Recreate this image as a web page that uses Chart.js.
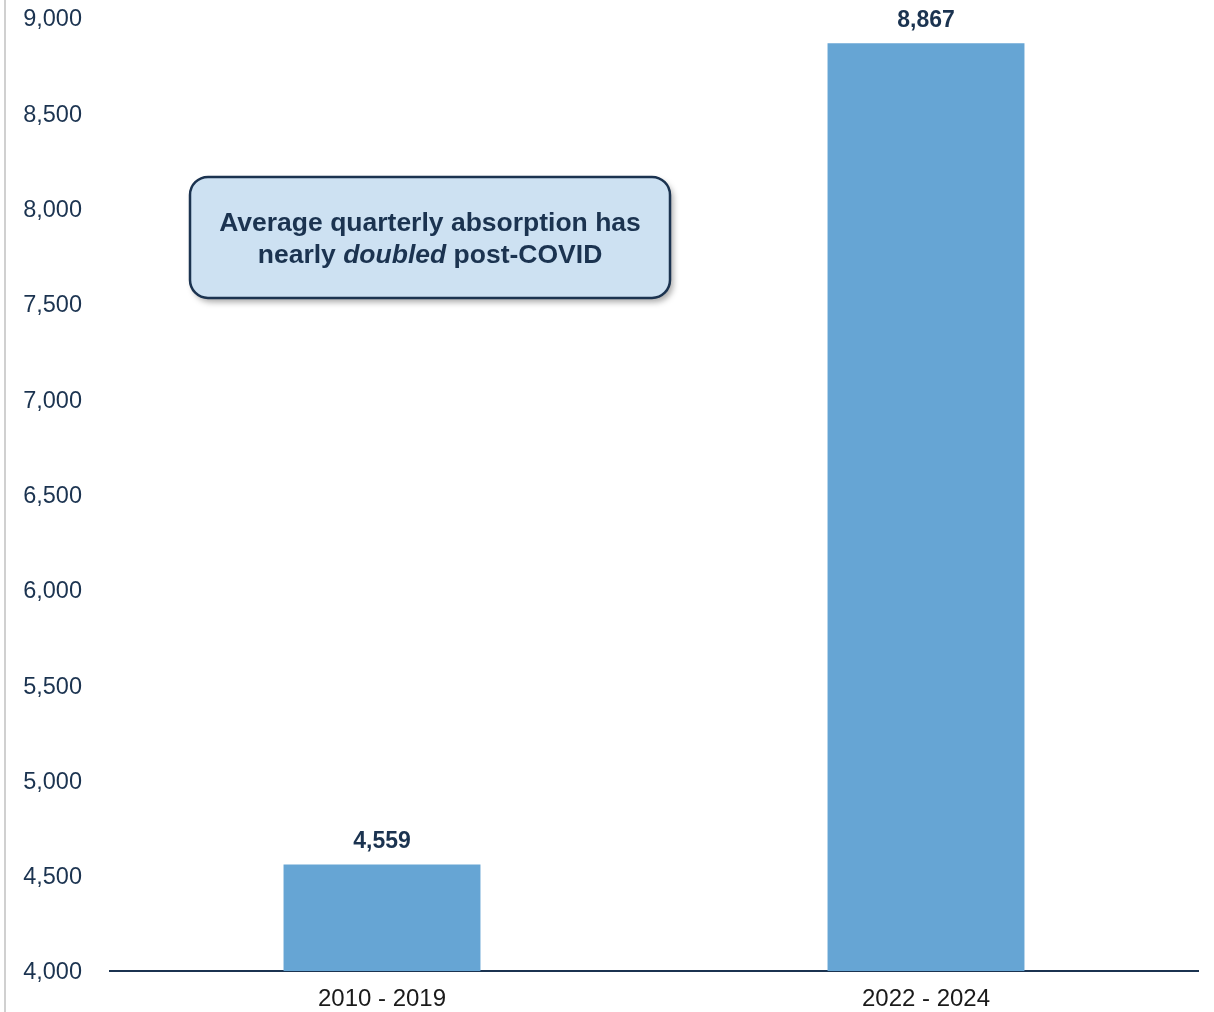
<!DOCTYPE html>
<html>
<head>
<meta charset="utf-8">
<script src="https://cdn.jsdelivr.net/npm/chart.js@4.4.1/dist/chart.umd.min.js"></script>
<style>
  html, body { margin: 0; padding: 0; background: #fff; }
  #wrap { width: 1214px; height: 1012px; position: relative; }
</style>
</head>
<body>
<div id="wrap"><canvas id="myChart" width="1214" height="1012"></canvas></div>
<script>
const categories = ['2010 - 2019', '2022 - 2024'];
const absorption = [4559, 8867];
const yTicks = [4000, 4500, 5000, 5500, 6000, 6500, 7000, 7500, 8000, 8500, 9000];
const noteLines = [
    [{ text: 'Average quarterly absorption has', italic: false }],
    [{ text: 'nearly ', italic: false }, { text: 'doubled', italic: true }, { text: ' post-COVID', italic: false }]
];

const navy = '#1b3350';
const barBlue = '#66a5d4';
const font = '"Liberation Sans", Arial, sans-serif';

// grey rule on the far left edge
const edgeLine = {
    id: 'edgeLine',
    beforeDraw(chart) {
        const c = chart.ctx;
        c.save();
        c.fillStyle = '#d0d0d0';
        c.fillRect(4, 0, 2, chart.height);
        c.restore();
    }
};

const valueLabels = {
    id: 'valueLabels',
    afterDatasetsDraw(chart) {
        const c = chart.ctx;
        const meta = chart.getDatasetMeta(0);
        c.save();
        c.font = 'bold 23px ' + font;
        c.fillStyle = navy;
        c.textAlign = 'center';
        c.textBaseline = 'middle';
        meta.data.forEach((bar, i) => {
            c.fillText(absorption[i].toLocaleString('en-US'), bar.x, bar.y - 23);
        });
        c.restore();
    }
};

function roundRect(c, x, y, w, h, r) {
    c.beginPath();
    c.moveTo(x + r, y);
    c.arcTo(x + w, y, x + w, y + h, r);
    c.arcTo(x + w, y + h, x, y + h, r);
    c.arcTo(x, y + h, x, y, r);
    c.arcTo(x, y, x + w, y, r);
    c.closePath();
}

const noteBox = {
    id: 'noteBox',
    afterDraw(chart) {
        const c = chart.ctx;
        const area = chart.chartArea;
        const ys = chart.scales.y;
        const left = area.left + 80, right = area.left + 560;
        const top = ys.getPixelForValue(8166), bottom = ys.getPixelForValue(7531);
        c.save();
        c.shadowColor = 'rgba(0,0,0,0.35)';
        c.shadowBlur = 6;
        c.shadowOffsetX = 3;
        c.shadowOffsetY = 4;
        roundRect(c, left, top, right - left, bottom - top, 18);
        c.fillStyle = '#cde1f2';
        c.fill();
        c.shadowColor = 'transparent';
        c.lineWidth = 2.5;
        c.strokeStyle = navy;
        c.stroke();

        c.fillStyle = navy;
        c.textBaseline = 'middle';
        const cx = (left + right) / 2;
        const cy = (top + bottom) / 2 + 2;
        const lh = 32;
        const fsize = '26.5px ';
        noteLines.forEach((parts, li) => {
            const widths = parts.map(p => {
                c.font = (p.italic ? 'italic ' : '') + 'bold ' + fsize + font;
                return c.measureText(p.text).width;
            });
            const total = widths.reduce((a, b) => a + b, 0);
            let x = cx - total / 2;
            const y = cy + (li - (noteLines.length - 1) / 2) * lh;
            parts.forEach((p, pi) => {
                c.font = (p.italic ? 'italic ' : '') + 'bold ' + fsize + font;
                c.textAlign = 'left';
                c.fillText(p.text, x, y);
                x += widths[pi];
            });
        });
        c.restore();
    }
};

const ctx = document.getElementById('myChart');

new Chart(ctx, {
    type: 'bar',
    data: {
        labels: categories,
        datasets: [{
            data: absorption,
            backgroundColor: barBlue,
            borderWidth: 0,
            categoryPercentage: 1,
            barPercentage: 0.362
        }]
    },
    options: {
        responsive: false,
        animation: false,
        events: [],
        layout: { padding: { top: 18, right: 16, left: 0, bottom: 0 } },
        plugins: {
            legend: { display: false },
            tooltip: { enabled: false }
        },
        scales: {
            x: {
                grid: { display: false, drawTicks: false },
                border: { display: true, color: navy, width: 2 },
                ticks: {
                    color: '#1a1a1a',
                    font: { family: font, size: 24 },
                    padding: 14,
                    maxRotation: 0
                },
                afterFit(scale) {
                    scale.height = 41;
                    scale.paddingLeft = 0;
                    scale.paddingRight = 0;
                }
            },
            y: {
                min: 4000,
                max: 9000,
                afterBuildTicks(scale) { scale.ticks = yTicks.map(v => ({ value: v })); },
                grid: { display: false, drawTicks: false },
                border: { display: false },
                ticks: {
                    color: navy,
                    font: { family: font, size: 23.5 },
                    padding: 28,
                    labelOffset: 2,
                    callback: v => v.toLocaleString('en-US')
                },
                afterFit(scale) {
                    scale.width = 110;
                    scale.paddingTop = 0;
                    scale.paddingBottom = 0;
                }
            }
        }
    },
    plugins: [edgeLine, valueLabels, noteBox]
});
</script>
</body>
</html>
